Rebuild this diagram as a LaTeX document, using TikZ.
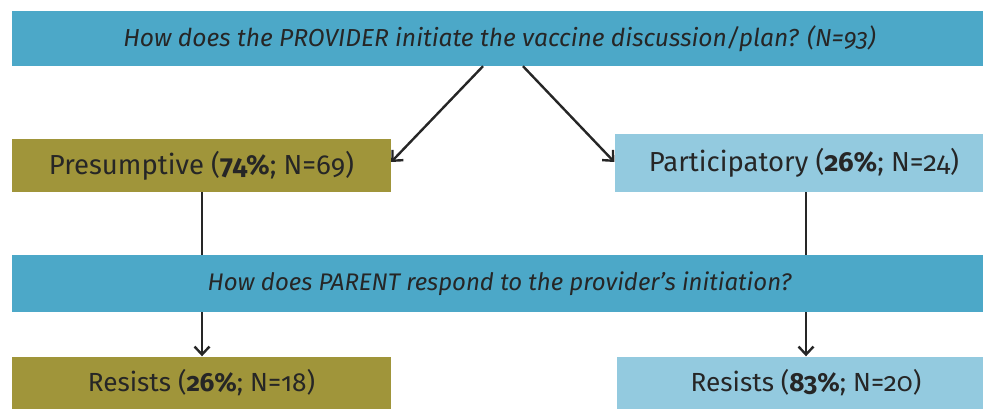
\documentclass[tikz,border=0pt]{standalone}
\usepackage{fontspec}
\setmainfont{Fira Sans}[Numbers=OldStyle]
\usetikzlibrary{arrows.meta}
\definecolor{qblue}{HTML}{4CA8C8}
\definecolor{olive}{HTML}{A0953A}
\definecolor{lightblue}{HTML}{93CADF}
\definecolor{ink}{HTML}{262626}

\begin{document}
\begin{tikzpicture}[x=1pt, y=-1pt,
        question/.style={fill=qblue, text=ink, font=\fontsize{24}{28}\selectfont\itshape, minimum width=975pt, minimum height=55pt, inner sep=0pt},
        answer/.style={text=ink, font=\fontsize{27.5}{32}\selectfont, minimum width=379pt, minimum height=53pt, inner sep=0pt},
        link/.style={line width=2.4pt, black!85},
        tip/.style={-{Straight Barb[length=8pt, width=15pt]}}]
            \clip (0,0) rectangle (983,409); %page is the reference size, boxes on the right run off it
            \node[question, font=\fontsize{24.6}{28}\selectfont\itshape] (provider) at (499.5,38.5) {How does the PROVIDER initiate the vaccine discussion/plan? (N=93)};
            \node[answer, fill=olive] (presumptive) at (201.5,165.5) {Presumptive (\textbf{74\%}; N=69)};
            \node[answer, fill=lightblue, minimum height=58pt] (participatory) at (804,163) {Participatory (\textbf{26\%}; N=24)};
            \node[question, minimum height=57pt] (parent) at (499.5,283.5) {How does PARENT respond to the provider's initiation?};
            \node[answer, fill=olive, font=\fontsize{26.2}{30}\selectfont] (resistsP) at (201.5,383) {Resists (\textbf{26\%}; N=18)};
            \node[answer, fill=lightblue, font=\fontsize{26.2}{30}\selectfont, minimum width=378pt] (resistsQ) at (806,383) {Resists (\textbf{83\%}; N=20)};
            \draw[link, tip] (provider.south -| 483,0) -- (presumptive.east |- 0,162);
            \draw[link, tip] (provider.south -| 523,0) -- (participatory.west |- 0,162);
            \draw[link] (presumptive.south -| 202,0) -- (parent.north -| 202,0);
            \draw[link] (participatory.south -| 806,0) -- (parent.north -| 806,0);
            \draw[link, tip] (parent.south -| 202,0) -- (resistsP.north -| 202,0);
            \draw[link, tip] (parent.south -| 806,0) -- (resistsQ.north -| 806,0);
\end{tikzpicture}
\end{document}
